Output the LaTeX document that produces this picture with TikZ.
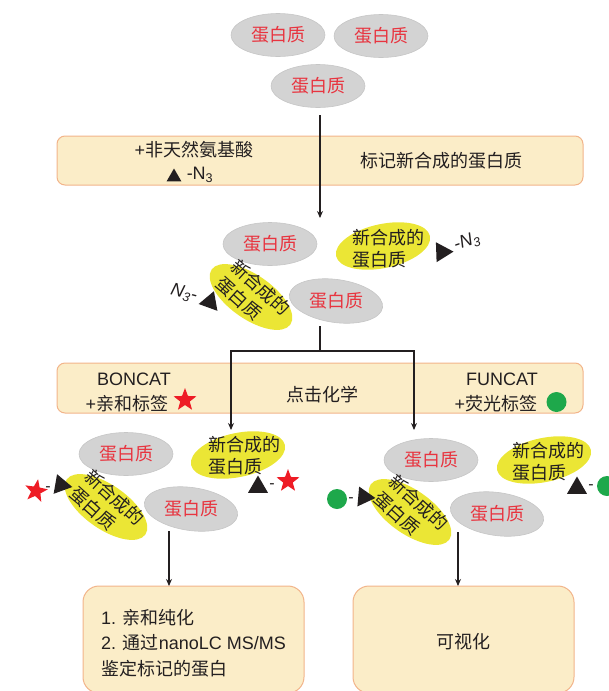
\documentclass[tikz,border=0pt]{standalone}
\usepackage{fontspec}
\setmainfont{Liberation Sans}
\newfontfamily\cjk{Noto Sans CJK SC}
\usetikzlibrary{shapes.geometric,arrows.meta}
\definecolor{boxfill}{HTML}{FBEDC8}
\definecolor{boxline}{HTML}{F2B48A}
\definecolor{grayfill}{HTML}{D3D3D3}
\definecolor{grayline}{HTML}{C6C6C6}
\definecolor{redtxt}{HTML}{E8343F}
\definecolor{yel}{HTML}{EBE635}
\definecolor{starred}{HTML}{EE1C25}
\definecolor{grn}{HTML}{1EA84B}
\definecolor{ink}{HTML}{231F20}
\newcommand\zh[1]{{\cjk #1}}
\begin{document}
\begin{tikzpicture}[x=1pt,y=-1pt,
  font=\fontsize{18}{22}\selectfont, text=ink,
  prot/.style={ellipse, fill=grayfill, draw=grayline, line width=0.6pt, inner sep=0pt, minimum width=94pt, minimum height=43pt},
  ptxt/.style={text=redtxt, font=\fontsize{18}{22}\selectfont\cjk, inner sep=0pt},
  newp/.style={ellipse, fill=yel, inner sep=0pt, minimum width=96pt, minimum height=44pt},
  ntxt/.style={align=left, font=\fontsize{18}{22}\selectfont\cjk, inner sep=0pt},
  tri/.style={regular polygon, regular polygon sides=3, fill=ink, inner sep=0pt, minimum size=23pt},
  redstar/.style={star, star points=5, star point ratio=2.4, fill=starred, inner sep=0pt, minimum size=24pt},
  gdot/.style={circle, fill=grn, inner sep=0pt, minimum size=20pt},
  panel/.style={rounded corners=8pt, fill=boxfill, draw=boxline, line width=1pt, inner sep=0pt},
  bigpanel/.style={panel, rounded corners=16pt, minimum width=221pt, minimum height=107pt},
  dashlbl/.style={inner sep=0pt, font=\fontsize{16}{18}\selectfont},
  flow/.style={draw=ink, line width=1.1pt},
  arr/.style={flow, -{Stealth[length=7pt,width=6pt]}},
]
\useasboundingbox (0,0) rectangle (609,691);

% ---------- panels ----------
\node[panel, minimum width=526pt, minimum height=49pt] (b1) at (320,160.5) {};
\node[panel, minimum width=526pt, minimum height=50pt] (b2) at (320,388) {};
\node[bigpanel] (bL) at (193.5,639.5) {};
\node[bigpanel] (bR) at (463.5,639.5) {};

% ---------- top proteins ----------
\node[prot] (pA) at (278,35) {};
\node[ptxt] (pAt) at (pA) {蛋白质};
\node[prot] (pB) at (381,36) {};
\node[ptxt] (pBt) at (pB) {蛋白质};
\node[prot] (pC) at (318,86) {};
\node[ptxt] (pCt) at (pC) {蛋白质};

% ---------- box 1 text ----------
\node (b1a) at (194,150) {+\zh{非天然氨基酸}};
\node[tri, minimum size=17pt] (b1tri) at (174,177) {};
\node (b1n) at (200,175) {-N\textsubscript{3}};
\node (b1b) at (441,161) {\zh{标记新合成的蛋白质}};

% ---------- middle group ----------
\node[prot] (pD) at (270,244) {};
\node[ptxt] (pDt) at (pD) {蛋白质};
\node[newp, rotate=12] (nE) at (383,246) {};
\node[ntxt] (nEt) at (388,249) {新合成的\\蛋白质};
\node[tri, rotate=-88] (tE) at (442,252) {};
\node[inner sep=0pt, rotate=18] (lE) at (467,242) {\textit{-N\textsubscript{3}}};

\node[newp, rotate=-35] (nF) at (251,297) {};
\node[ntxt, rotate=-42] (nFt) at (253,296) {新合成的\\蛋白质};
\node[tri, rotate=100] (tF) at (210,302) {};
\node[inner sep=0pt, rotate=-15] (lF) at (184,293) {\textit{N\textsubscript{3}-}};

\node[prot, rotate=-8] (pG) at (336,301) {};
\node[ptxt] (pGt) at (pG) {蛋白质};

% ---------- box 2 text ----------
\node (b2a) at (134,379) {BONCAT};
\node (b2b) at (127,404) {+\zh{亲和标签}};
\node[redstar] (b2s) at (185,400) {};
\node (b2c) at (322,395) {\zh{点击化学}};
\node (b2d) at (502,379) {FUNCAT};
\node (b2e) at (496,404) {+\zh{荧光标签}};
\node[gdot] (b2g) at (556.5,402) {};

% ---------- connectors ----------
\coordinate (a1s) at (320,115);
\coordinate (a1e) at (320,218);
\draw[arr] (a1s) -- (a1e);

\coordinate (br0) at (320,326);
\coordinate (brm) at (320,351);
\coordinate (brL) at (231,351);
\coordinate (brR) at (414,351);
\coordinate (eL) at (231,430);
\coordinate (eR) at (414,430);
\draw[flow] (br0) -- (brm);
\draw[arr] (brm) -- (brL) -- (eL);
\draw[arr] (brm) -- (brR) -- (eR);

% ---------- bottom-left group ----------
\node[prot] (pH) at (126,454) {};
\node[ptxt] (pHt) at (pH) {蛋白质};
\node[newp, rotate=12] (nI) at (238,455) {};
\node[ntxt] (nIt) at (244,456) {新合成的\\蛋白质};
\node[tri] (tI) at (258,487) {};
\node[dashlbl] (dI) at (272,486) {-};
\node[redstar] (sI) at (288,481) {};

\node[newp, rotate=-35] (nJ) at (106,507) {};
\node[ntxt, rotate=-42] (nJt) at (107,506) {新合成的\\蛋白质};
\node[tri, rotate=-100] (tJ) at (61,485) {};
\node[dashlbl] (dJ) at (48,489) {-};
\node[redstar, rotate=-10] (sJ) at (36,491) {};

\node[prot, rotate=-8] (pK) at (191,509) {};
\node[ptxt] (pKt) at (pK) {蛋白质};

% ---------- bottom-right group ----------
\node[prot] (pM) at (431,460) {};
\node[ptxt] (pMt) at (pM) {蛋白质};
\node[newp, rotate=12] (nN) at (544,460) {};
\node[ntxt] (nNt) at (548,462) {新合成的\\蛋白质};
\node[tri] (tN) at (577,488) {};
\node[dashlbl] (dN) at (591,487) {-};
\node[gdot] (gN) at (607,486) {};

\node[newp, rotate=-35] (nO) at (410,512) {};
\node[ntxt, rotate=-42] (nOt) at (411,511) {新合成的\\蛋白质};
\node[tri, rotate=-95] (tO) at (364,497) {};
\node[dashlbl] (dO) at (351,500) {-};
\node[gdot] (gO) at (337,499) {};

\node[prot, rotate=-8] (pP) at (497,514) {};
\node[ptxt] (pPt) at (pP) {蛋白质};

% ---------- lower arrows ----------
\coordinate (a2s) at (169,531);
\coordinate (a2e) at (169,586);
\draw[arr] (a2s) -- (a2e);
\coordinate (a3s) at (458,532);
\coordinate (a3e) at (458,586);
\draw[arr] (a3s) -- (a3e);

% ---------- result boxes text ----------
\node[align=left, anchor=west, inner sep=0pt, font=\fontsize{18}{25.5}\selectfont] (bLt) at (101,643)
  {1. \zh{亲和纯化}\\2. \zh{通过}nanoLC MS/MS\\\zh{鉴定标记的蛋白}};
\node (bRt) at (463,642) {\zh{可视化}};
\end{tikzpicture}
\end{document}
